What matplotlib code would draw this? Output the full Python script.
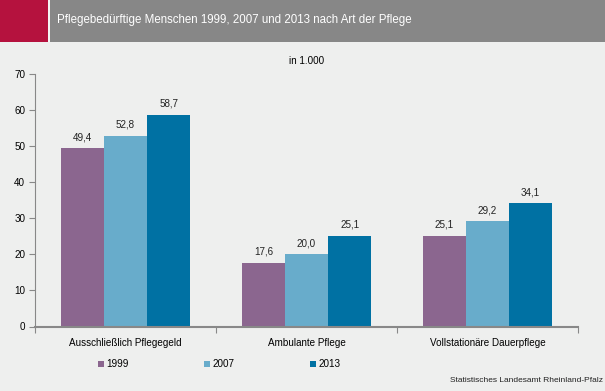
import numpy as np
import matplotlib.pyplot as plt
from matplotlib.patches import Rectangle

plt.rcParams['font.family'] = ['Liberation Sans', 'DejaVu Sans']

# data
categories = ['Ausschließlich Pflegegeld', 'Ambulante Pflege', 'Vollstationäre Dauerpflege']
years = ['1999', '2007', '2013']
v1999 = [49.4, 17.6, 25.1]
v2007 = [52.8, 20.0, 29.2]
v2013 = [58.7, 25.1, 34.1]
colors = ['#8b668f', '#68accb', '#0071a3']

bg = '#eeefee'
fig = plt.figure(figsize=(6.05, 3.91), dpi=100)
fig.patch.set_facecolor(bg)

# header band
fig.patches.append(Rectangle((0, 1 - 42 / 391), 1, 42 / 391, transform=fig.transFigure,
                             facecolor='#878787', edgecolor='none'))
fig.patches.append(Rectangle((0, 1 - 42 / 391), 48 / 605, 42 / 391, transform=fig.transFigure,
                             facecolor='#b5123e', edgecolor='none'))
fig.patches.append(Rectangle((48 / 605, 1 - 42 / 391), 2 / 605, 42 / 391, transform=fig.transFigure,
                             facecolor='#f4f4f4', edgecolor='none'))
fig.text(57 / 605, 1 - 20 / 391, 'Pflegebedürftige Menschen 1999, 2007 und 2013 nach Art der Pflege',
         color='white', fontsize=8.3, va='center', ha='left')

ax = fig.add_axes([35 / 605, 1 - 326.5 / 391, 543 / 605, 252.5 / 391])
ax.set_facecolor(bg)

x = np.arange(len(categories))
w = 0.238
fs = 7.1
for i, (vals, yr) in enumerate(zip([v1999, v2007, v2013], years)):
    bars = ax.bar(x + (i - 1) * w, vals, w, color=colors[i], label=yr)
    for b, v in zip(bars, vals):
        ax.text(b.get_x() + b.get_width() / 2, v + 1.7, f'{v:.1f}'.replace('.', ','),
                ha='center', va='bottom', fontsize=fs, color='#222222')

ax.set_xlim(-0.5, 2.5)
ax.set_ylim(0, 70)
ax.set_yticks(range(0, 71, 10))
ax.set_xticks([-0.5, 0.5, 1.5, 2.5])
ax.set_xticklabels([])
ax.set_xticks(x, minor=True)
ax.set_xticklabels(categories, minor=True)
ax.tick_params(axis='x', which='minor', length=0, labelsize=fs, pad=8)
ax.tick_params(axis='x', which='major', length=4, color='#888888', direction='out')
ax.tick_params(axis='y', length=4, color='#888888', labelsize=fs, pad=3)
for s in ['top', 'right']:
    ax.spines[s].set_visible(False)
for s in ['left', 'bottom']:
    ax.spines[s].set_color('#888888')
ax.spines['bottom'].set_linewidth(1.5)

ax.text(0.5, 1.04, 'in 1.000', transform=ax.transAxes, ha='center', fontsize=fs)

leg = ax.legend(loc='upper left', bbox_to_anchor=(54 / 543, -0.095), ncol=3, frameon=False,
                fontsize=fs, handlelength=0.6, handleheight=0.6, handletextpad=0.3,
                columnspacing=7.6)

fig.text(603 / 605, 1 - 380 / 391, 'Statistisches Landesamt Rheinland-Pfalz', ha='right', va='center',
         fontsize=6, color='#222222')

fig.savefig('out.png', dpi=100, facecolor=bg)
